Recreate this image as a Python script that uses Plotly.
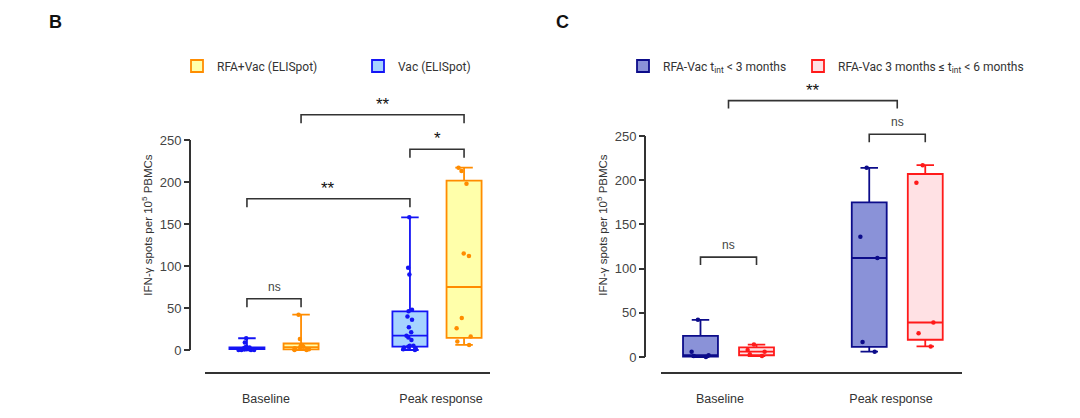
import numpy as np
import plotly.graph_objects as go

# ---------------- data ----------------
categories = ["Baseline", "Peak response"]

# Panel B (left box = Vac, right box = RFA+Vac)
b_series = ["Vac (ELISpot)", "RFA+Vac (ELISpot)"]
b_vac_baseline = [0, 0, 0, 0, 1, 1, 1, 1, 1, 1, 2, 2, 2, 2, 3, 3, 4, 9, 14]
b_vac_peak = [0, 1, 2, 3, 4, 5, 5, 12, 15, 17, 21, 27, 36, 40, 46, 48, 90, 98, 158]
b_rfa_baseline = [0, 0, 1, 2, 3, 4, 5, 6, 13, 42]
b_rfa_peak = [6, 10, 16, 26, 38, 112, 115, 198, 213, 217]

# Panel C (left box = t_int < 3 months, right box = 3 months <= t_int < 6 months)
c_series = ["RFA-Vac t<sub>int</sub> < 3 months",
            "RFA-Vac 3 months ≤ t<sub>int</sub> < 6 months"]
c_lt3_baseline = [0, 1, 2, 6, 42]
c_lt3_peak = [6, 17, 112, 136, 214]
c_3to6_baseline = [1, 3, 6, 8, 14]
c_3to6_peak = [12, 27, 39, 197, 217]

# significance brackets: (category A, series A, category B, series B, label, level)
# series index None = category centre
b_brackets = [
    (0, 0, 0, 1, "ns", 61),
    (0, 0, 1, 0, "**", 180),
    (1, 0, 1, 1, "*", 239),
    (0, 1, 1, 1, "**", 280),
]
c_brackets = [
    (0, 0, 0, 1, "ns", 113),
    (1, 0, 1, 1, "ns", 252),
    (0, None, 1, None, "**", 290),
]

y_ticks = [0, 50, 100, 150, 200, 250]

# ---------------- styling ----------------
W, H = 1080, 418
FONT = "Liberation Sans, Arial, sans-serif"
AX_COL = "#333333"

b_line = ["#1414f5", "#ff8c00"]
b_fill = ["#a6d3ff", "#ffffaa"]
c_line = ["#0c0c8a", "#ff1a1a"]
c_fill = ["#8a92d8", "#ffe1e4"]

# legend text start positions (px) for each entry
b_leg_x = [398, 217]   # Vac, RFA+Vac
c_leg_x = [663, 838]

# category label centres (px)
b_lab_px = [266, 441]
c_lab_px = [720, 891]


def px_x(p):
    return p / W


def px_y(p):
    return 1 - p / H


fig = go.Figure()


def add_panel(xa, ya, groups, names, lines, fills, legends, offset, width):
    for si in range(len(names)):
        for ci in range(len(categories)):
            vals = np.array(groups[si][ci], dtype=float)
            q1, med, q3 = np.percentile(vals, [25, 50, 75], method="weibull")
            pos = ci + (offset if si == 1 else -offset)
            fig.add_trace(go.Box(
                x=[pos], q1=[q1], median=[med], q3=[q3],
                lowerfence=[vals.min()], upperfence=[vals.max()],
                width=width, whiskerwidth=0.5,
                fillcolor=fills[si], line=dict(color=lines[si], width=1.8),
                name=names[si], legendgroup=names[si], showlegend=(ci == 0),
                legend=legends[si],
                xaxis=xa, yaxis=ya, hoverinfo="skip",
            ))
            fig.add_trace(go.Box(
                x=[pos] * len(vals), y=vals, width=width,
                boxpoints="all", jitter=0.6, pointpos=0,
                fillcolor="rgba(0,0,0,0)",
                line=dict(color="rgba(0,0,0,0)", width=0),
                whiskerwidth=0,
                marker=dict(color=lines[si], size=4.5),
                name=names[si], showlegend=False,
                xaxis=xa, yaxis=ya, hoverinfo="skip",
            ))


def add_brackets(xa, ya, brackets, offset, leg):
    for ca, sa, cb, sb, lab, lev in brackets:
        xa0 = ca + (0 if sa is None else (offset if sa == 1 else -offset))
        xb0 = cb + (0 if sb is None else (offset if sb == 1 else -offset))
        fig.add_shape(type="path",
                      path=f"M {xa0},{lev - leg} L {xa0},{lev} L {xb0},{lev} L {xb0},{lev - leg}",
                      xref=xa, yref=ya, line=dict(color=AX_COL, width=1.6))
        star = "*" in lab
        fig.add_annotation(x=(xa0 + xb0) / 2, y=lev, xref=xa, yref=ya,
                           text=lab, showarrow=False, yanchor="bottom",
                           yshift=(-1 if star else 3),
                           font=dict(family=FONT, size=(17 if star else 12),
                                     color=("#111" if star else "#444")))


# Panel B
add_panel("x", "y",
          [[b_vac_baseline, b_vac_peak], [b_rfa_baseline, b_rfa_peak]],
          b_series, b_line, b_fill, ["legend2", "legend"], 0.166, 0.215)
add_brackets("x", "y", b_brackets, 0.166, 10)

# Panel C
add_panel("x2", "y2",
          [[c_lt3_baseline, c_lt3_peak], [c_3to6_baseline, c_3to6_peak]],
          c_series, c_line, c_fill, ["legend3", "legend4"], 0.166, 0.207)
add_brackets("x2", "y2", c_brackets, 0.166, 9)

# axis geometry (pixel based)
b_y0, b_scale = 350, 0.84
c_y0, c_scale = 357, 0.884
bottom_px, top_px = 372, 78

ydom = [px_y(bottom_px), px_y(top_px)]
b_range = [-(bottom_px - b_y0) / b_scale, (b_y0 - top_px) / b_scale]
c_range = [-(bottom_px - c_y0) / c_scale, (c_y0 - top_px) / c_scale]

b_x_lo, b_x_hi = 205, 490
b_c0, b_c1 = 274, 437
b_sep = b_c1 - b_c0
c_x_lo, c_x_hi = 661, 962
c_c0, c_c1 = 728.5, 897.25
c_sep = c_c1 - c_c0

xaxis_common = dict(showgrid=False, zeroline=False, showline=True, linecolor=AX_COL,
                    linewidth=2, ticktext=categories, ticks="",
                    ticklabelstandoff=14, tickfont=dict(family=FONT, size=12.5, color="#333"))
yaxis_common = dict(showgrid=False, zeroline=False, showline=False, tickvals=y_ticks,
                    ticks="outside", ticklen=6, tickwidth=2, tickcolor=AX_COL,
                    tickfont=dict(family=FONT, size=13, color="#444"),
                    title=dict(text="IFN-γ spots per 10<sup>5</sup> PBMCs",
                               font=dict(family=FONT, size=11.5, color="#333"), standoff=3))

legend_font = dict(family="Roboto, sans-serif", size=12, color="#333")


def legend_at(xpx):
    return dict(orientation="h", x=px_x(xpx - 40), y=px_y(66), xanchor="left", yanchor="middle",
                font=legend_font, bgcolor="rgba(0,0,0,0)")


fig.update_layout(
    width=W, height=H, margin=dict(l=0, r=0, t=0, b=0),
    paper_bgcolor="white", plot_bgcolor="white", boxmode="overlay",
    xaxis=dict(domain=[px_x(b_x_lo), px_x(b_x_hi)], anchor="y",
               range=[-(b_c0 - b_x_lo) / b_sep, 1 + (b_x_hi - b_c1) / b_sep],
               tickvals=[(p - b_c0) / b_sep for p in b_lab_px], **xaxis_common),
    yaxis=dict(domain=ydom, anchor="free", position=px_x(190), range=b_range, **yaxis_common),
    xaxis2=dict(domain=[px_x(c_x_lo), px_x(c_x_hi)], anchor="y2",
                range=[-(c_c0 - c_x_lo) / c_sep, 1 + (c_x_hi - c_c1) / c_sep],
                tickvals=[(p - c_c0) / c_sep for p in c_lab_px], **xaxis_common),
    yaxis2=dict(domain=ydom, anchor="free", position=px_x(645), range=c_range, **yaxis_common),
    legend=legend_at(b_leg_x[1]),
    legend2=legend_at(b_leg_x[0]),
    legend3=legend_at(c_leg_x[0]),
    legend4=legend_at(c_leg_x[1]),
    showlegend=True,
)

# y-axis lines (only spanning the tick range, Prism style)
for xpos, yr in ((190, "y"), (645, "y2")):
    fig.add_shape(type="line", xref="paper", yref=yr, x0=px_x(xpos), x1=px_x(xpos),
                  y0=y_ticks[0], y1=y_ticks[-1], line=dict(color=AX_COL, width=2))

# panel letters
for lab, xp in (("B", 55), ("C", 562)):
    fig.add_annotation(text=f"<b>{lab}</b>", x=px_x(xp), y=px_y(22), xref="paper", yref="paper",
                       xanchor="center", yanchor="middle",
                       showarrow=False, font=dict(family=FONT, size=18, color="#111"))

fig.write_html("out.html", config={"displayModeBar": False},
               post_script="document.body.style.margin='0';")
